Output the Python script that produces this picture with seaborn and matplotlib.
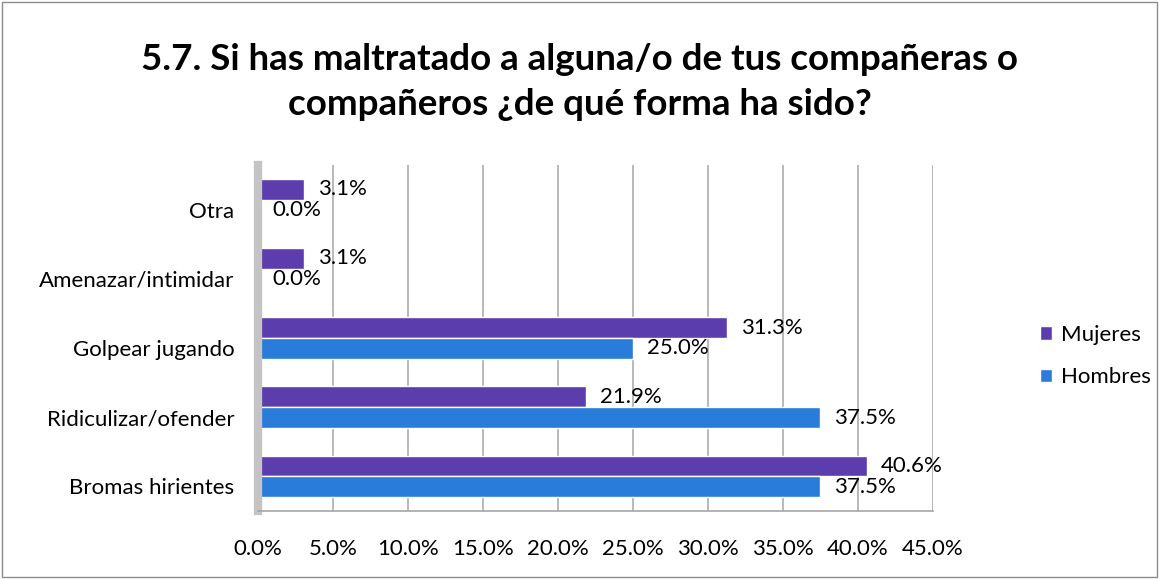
import pandas as pd
import matplotlib.pyplot as plt
import seaborn as sns
from matplotlib.patches import Rectangle
from matplotlib.ticker import FuncFormatter
from matplotlib.transforms import ScaledTranslation

# data
categories = ["Otra", "Amenazar/intimidar", "Golpear jugando",
              "Ridiculizar/ofender", "Bromas hirientes"]
mujeres = [3.1, 3.1, 31.3, 21.9, 40.6]
hombres = [0.0, 0.0, 25.0, 37.5, 37.5]
series = ["Mujeres", "Hombres"]
colors = {"Mujeres": "#5B3DAD", "Hombres": "#2A7CDA"}
title_lines = ["5.7. Si has maltratado a alguna/o de tus compañeras o",
               "compañeros ¿de qué forma ha sido?"]

df = pd.DataFrame({
    "categoria": categories * 2,
    "serie": ["Mujeres"] * len(categories) + ["Hombres"] * len(categories),
    "valor": mujeres + hombres,
})

sns.set_theme(style="white")
plt.rcParams["font.family"] = ["Lato", "DejaVu Sans"]
plt.rcParams["text.color"] = "black"

fig = plt.figure(figsize=(11.59, 5.79), dpi=100)
ax = fig.add_axes([0.2226, 0.1174, 0.5824, 0.5976])

sns.barplot(data=df, x="valor", y="categoria", hue="serie", order=categories,
            hue_order=series, palette=colors, orient="h", width=0.6,
            saturation=1, ax=ax, legend=True)

ax.set_xlim(0, 45)
ax.set_xticks(range(0, 50, 5))
ax.xaxis.set_major_formatter(FuncFormatter(lambda v, p: f"{v:.1f}%"))
ax.grid(axis="x", color="#ADADAD", linewidth=1.2)
ax.set_axisbelow(True)
ax.set_xlabel("")
ax.set_ylabel("")
ax.tick_params(axis="x", labelsize=16, pad=20, labelcolor="black", length=0)
ax.tick_params(axis="y", labelsize=16, pad=17, labelcolor="black", length=0)

# category labels sit a little lower than the bar pair (3D look)
shift = ScaledTranslation(0, -10 / 100, fig.dpi_scale_trans)
for lab in ax.get_yticklabels():
    lab.set_transform(lab.get_transform() + shift)

for s in ["top", "right"]:
    ax.spines[s].set_visible(False)
ax.spines["left"].set_color("#C4C4C4")
ax.spines["left"].set_linewidth(6)
ax.spines["bottom"].set_color("#A6A6A6")
ax.spines["bottom"].set_linewidth(1.2)

# data labels
for cont in ax.containers:
    ax.bar_label(cont, labels=[f"{v:.1f}%" for v in cont.datavalues],
                 padding=10, fontsize=16, color="black")

# legend on the right
handles, labels = ax.get_legend_handles_labels()
ax.legend_.remove()
fig.legend(handles, labels, loc="center left", bbox_to_anchor=(0.880, 0.385),
           frameon=False, fontsize=16, handlelength=0.55, handleheight=0.55,
           handletextpad=0.4, labelspacing=1.0)

for txt, yy in zip(title_lines, [0.8964, 0.8187]):
    fig.text(0.5, yy, txt, ha="center", va="center", fontsize=26.5,
             fontweight="bold", color="black")

fig.patches.append(Rectangle((0.002, 0.003), 0.996, 0.994,
                             transform=fig.transFigure, fill=False,
                             edgecolor="#8C8C8C", linewidth=1))

fig.savefig("out.png", dpi=100)
